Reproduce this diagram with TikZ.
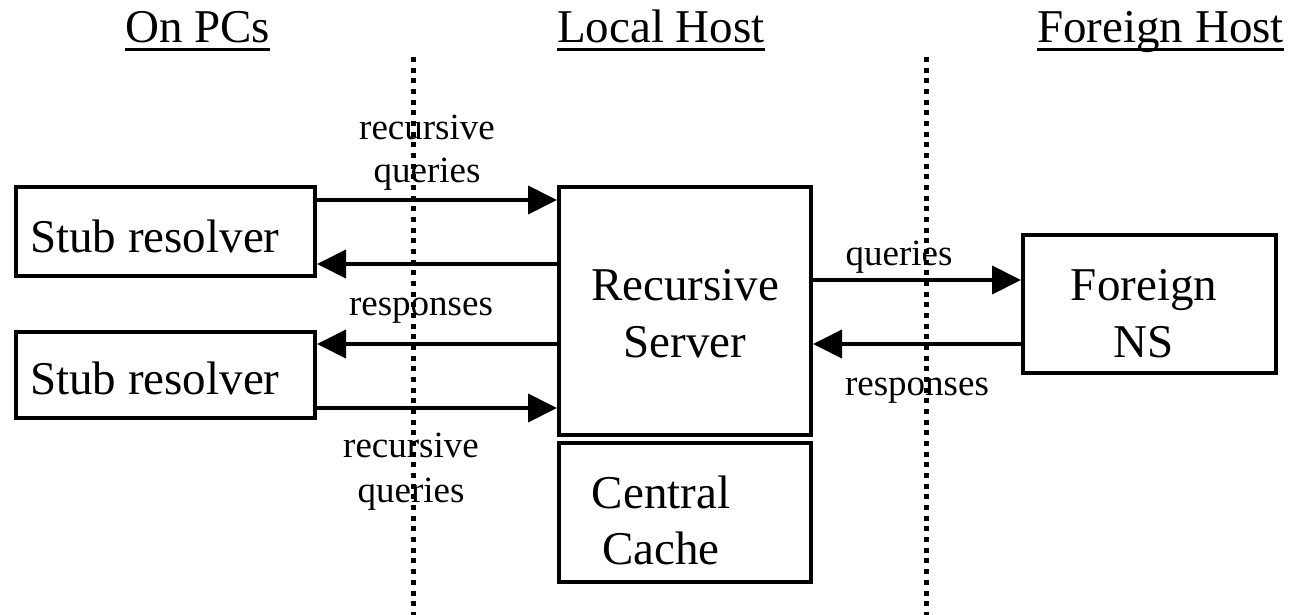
\documentclass[tikz,border=0pt]{standalone}
\usepackage{fontspec}
\setmainfont{Liberation Serif}
\usetikzlibrary{arrows.meta,calc}

\tikzset{
  box/.style={draw, line width=4pt, inner sep=0pt, rectangle},
  bigtxt/.style={inner sep=0pt, align=center, font=\fontsize{47}{57}\selectfont},
  smalltxt/.style={inner sep=0pt, align=center, font=\fontsize{37}{43}\selectfont},
  flow/.style={line width=4pt, -{Triangle[length=29pt,width=28pt]}},
  divider/.style={line width=5pt, dash pattern=on 5pt off 5.67pt},
  rule/.style={line width=3pt},
}

\begin{document}
\begin{tikzpicture}[x=1pt,y=-1pt]
\useasboundingbox (0,0) rectangle (1295,615);
\fill[white] (0,0) rectangle (1295,615);

% column headings
\node[bigtxt, anchor=base west] (hpc) at (125,43) {On PCs};
\node[bigtxt, anchor=base west] (hlocal) at (557,43) {Local Host};
\node[bigtxt, anchor=base west] (hforeign) at (1037,43) {Foreign Host};
\foreach \h in {hpc,hlocal,hforeign}
  \draw[rule] ([yshift=-7pt]\h.base west) -- ([yshift=-7pt]\h.base east);

% host boundaries
\coordinate (d1top) at (413,57);
\coordinate (d1bot) at (413,615);
\coordinate (d2top) at (926,57);
\coordinate (d2bot) at (926,615);
\draw[divider] (d1top) -- (d1bot);
\draw[divider] (d2top) -- (d2bot);

% boxes
\node[box, minimum width=299pt, minimum height=89pt] (stub1) at (165.5,231.5) {};
\node[box, minimum width=299pt, minimum height=86pt] (stub2) at (165.5,375) {};
\node[box, minimum width=252pt, minimum height=248pt] (rec) at (685,311) {};
\node[box, minimum width=252pt, minimum height=139pt] (cache) at (685,512.5) {};
\node[box, minimum width=253pt, minimum height=138pt] (fns) at (1149.5,304) {};

% box texts (base anchor sits on the last line)
\node[bigtxt, anchor=base west] (stub1t) at (30,252) {Stub resolver};
\node[bigtxt, anchor=base west] (stub2t) at (30,394) {Stub resolver};
\node[bigtxt, anchor=base] (rect) at (685,357) {Recursive\\Server};
\node[bigtxt, anchor=base, font=\fontsize{47}{56}\selectfont] (cachet) at (661,564) {Central\\Cache};
\node[bigtxt, anchor=base] (fnst) at (1144,357) {Foreign\\NS};

% message flows
\draw[flow] (stub1.east |- 0,200) -- (rec.west |- 0,200);
\draw[flow] (rec.west |- 0,264) -- (stub1.east |- 0,264);
\draw[flow] (rec.west |- 0,344) -- (stub2.east |- 0,344);
\draw[flow] (stub2.east |- 0,408) -- (rec.west |- 0,408);
\draw[flow] (rec.east |- 0,280) -- (fns.west |- 0,280);
\draw[flow] (fns.west |- 0,344) -- (rec.east |- 0,344);

% flow labels
\node[smalltxt, anchor=base] (lq1) at (427,182) {recursive\\queries};
\node[smalltxt, anchor=base] (lr1) at (421,315) {responses};
\node[smalltxt, anchor=base, font=\fontsize{37}{45}\selectfont] (lq2) at (411,502) {recursive\\queries};
\node[smalltxt, anchor=base] (lq3) at (899,265) {queries};
\node[smalltxt, anchor=base] (lr3) at (917,395) {responses};
\end{tikzpicture}
\end{document}
